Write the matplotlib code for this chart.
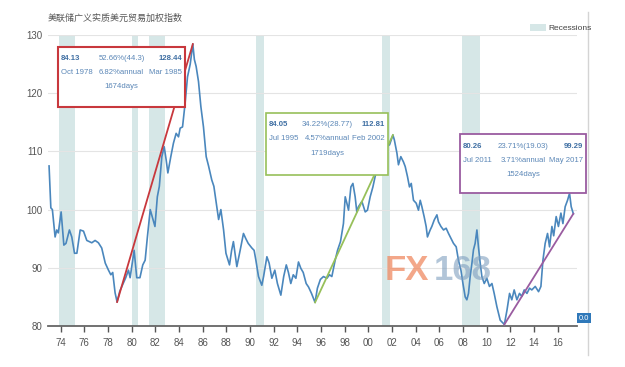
import matplotlib
matplotlib.use("Agg")
from matplotlib import pyplot as plt
from matplotlib.patches import Rectangle
from matplotlib.lines import Line2D

years = [1973.02, 1973.17, 1973.3, 1973.53, 1973.67, 1973.8, 1974.04, 1974.27, 1974.45, 1974.74,
         1974.94, 1975.17, 1975.37, 1975.65, 1975.93, 1976.21, 1976.63, 1976.91, 1977.19, 1977.47,
         1977.77, 1978.04, 1978.24, 1978.4, 1978.6, 1978.77, 1979.0, 1979.3, 1979.5, 1979.73,
         1979.87, 1980.21, 1980.43, 1980.7, 1980.94, 1981.14, 1981.33, 1981.57, 1981.8, 1981.97,
         1982.17, 1982.34, 1982.55, 1982.75, 1982.92, 1983.06, 1983.3, 1983.53, 1983.76, 1983.96,
         1984.1, 1984.3, 1984.52, 1984.72, 1984.95, 1985.17, 1985.3, 1985.45, 1985.65, 1985.85,
         1986.07, 1986.3, 1986.5, 1986.77, 1986.95, 1987.2, 1987.35, 1987.54, 1987.77, 1987.97,
         1988.27, 1988.45, 1988.6, 1988.89, 1989.17, 1989.45, 1989.65, 1989.85, 1990.16, 1990.35,
         1990.5, 1990.72, 1991.0, 1991.15, 1991.43, 1991.62, 1991.85, 1992.1, 1992.32, 1992.61,
         1992.85, 1993.07, 1993.25, 1993.45, 1993.66, 1993.88, 1994.1, 1994.3, 1994.5, 1994.75,
         1994.95, 1995.2, 1995.5, 1995.7, 1995.95, 1996.21, 1996.5, 1996.72, 1996.92, 1997.2,
         1997.4, 1997.65, 1997.9, 1998.05, 1998.19, 1998.33, 1998.53, 1998.7, 1998.89, 1999.03,
         1999.17, 1999.46, 1999.74, 1999.93, 2000.16, 2000.39, 2000.58, 2000.73, 2001.0, 2001.28,
         2001.57, 2001.79, 2002.08, 2002.2, 2002.42, 2002.55, 2002.75, 2002.97, 2003.12, 2003.31,
         2003.48, 2003.63, 2003.82, 2004.05, 2004.24, 2004.39, 2004.53, 2004.72, 2004.89, 2005.0,
         2005.23, 2005.37, 2005.57, 2005.8, 2005.93, 2006.14, 2006.36, 2006.58, 2006.78, 2006.98,
         2007.2, 2007.43, 2007.62, 2007.83, 2008.0, 2008.19, 2008.33, 2008.47, 2008.61, 2008.76,
         2008.89, 2009.03, 2009.18, 2009.31, 2009.46, 2009.6, 2009.8, 2010.02, 2010.24, 2010.45,
         2010.64, 2010.87, 2011.0, 2011.15, 2011.5, 2011.72, 2011.94, 2012.13, 2012.33, 2012.56,
         2012.78, 2012.97, 2013.18, 2013.41, 2013.63, 2013.82, 2014.11, 2014.39, 2014.59, 2014.76,
         2014.95, 2015.15, 2015.32, 2015.52, 2015.67, 2015.88, 2016.07, 2016.28, 2016.45, 2016.64,
         2016.84, 2017.01, 2017.15, 2017.33]
index_values = [107.5, 100.3, 100.0, 95.3, 96.5, 96.0, 99.6, 93.9, 94.2, 96.5,
                95.3, 92.5, 92.5, 96.5, 96.3, 94.7, 94.3, 94.7, 94.3, 93.4,
                90.8, 89.6, 88.8, 89.2, 85.7, 84.13, 86.0, 87.4, 88.3, 89.6,
                88.3, 93.0, 88.3, 88.3, 90.5, 91.3, 95.3, 100.0, 98.3, 97.1,
                102.2, 104.0, 109.1, 110.8, 108.5, 106.3, 109.0, 111.4, 113.1, 112.5,
                114.0, 114.2, 118.3, 122.8, 125.0, 128.44, 125.8, 124.6, 122.0, 117.7,
                114.2, 109.1, 107.5, 105.1, 104.0, 100.5, 98.3, 100.0, 96.5, 92.5,
                90.5, 93.0, 94.5, 90.2, 93.0, 95.9, 95.0, 94.2, 93.4, 93.0,
                91.3, 88.5, 87.0, 88.5, 91.9, 90.8, 88.2, 89.6, 87.3, 85.3,
                88.5, 90.5, 89.2, 87.3, 88.8, 88.2, 91.0, 89.9, 89.2, 87.3,
                86.7, 85.6, 84.05, 86.5, 88.0, 88.5, 88.2, 88.8, 88.5, 91.3,
                93.0, 94.5, 97.6, 102.2, 101.1, 99.9, 103.9, 104.5, 102.2, 99.6,
                100.5, 101.4, 99.6, 99.9, 102.2, 103.9, 105.7, 106.8, 109.1, 110.8,
                111.4, 111.1, 112.81, 112.0, 109.7, 107.7, 109.1, 108.2, 107.4, 105.7,
                103.9, 104.5, 101.6, 101.1, 99.9, 101.6, 100.5, 98.8, 97.1, 95.3,
                96.5, 97.1, 98.2, 99.1, 97.9, 97.1, 96.5, 96.8, 95.9, 95.1,
                94.2, 93.6, 91.3, 89.6, 87.3, 85.0, 84.5, 85.6, 88.5, 90.8,
                93.1, 94.2, 96.5, 93.6, 90.8, 88.5, 87.3, 88.2, 86.8, 87.3,
                85.6, 83.3, 82.2, 81.0, 80.26, 82.7, 85.6, 84.5, 86.2, 84.5,
                85.6, 85.1, 86.2, 85.6, 86.5, 86.2, 86.8, 85.9, 86.8, 91.3,
                94.2, 95.9, 93.6, 97.1, 95.5, 98.8, 97.1, 99.4, 97.6, 100.5,
                101.6, 102.8, 100.5, 99.29]

recession_starts = [1973.83, 1980.0, 1981.5, 1990.5, 2001.17, 2007.92]
recession_ends = [1975.17, 1980.5, 1982.83, 1991.17, 2001.83, 2009.42]

trend_start_years = [1978.77, 1995.5, 2011.5]
trend_start_values = [84.13, 84.05, 80.26]
trend_end_years = [1985.17, 2002.08, 2017.33]
trend_end_values = [128.44, 112.81, 99.29]
start_labels = ["Oct 1978", "Jul 1995", "Jul 2011"]
end_labels = ["Mar 1985", "Feb 2002", "May 2017"]
change_labels = ["52.66%(44.3)", "34.22%(28.77)", "23.71%(19.03)"]
annual_labels = ["6.82%annual", "4.57%annual", "3.71%annual"]
day_labels = ["1674days", "1719days", "1524days"]

tick_years = list(range(1974, 2017, 2))
tick_labels = ["%02d" % (y % 100) for y in tick_years]

W, H = 625, 367
fig = plt.figure(figsize=(W / 100, H / 100), dpi=100)
plt.rcParams['font.family'] = ['Liberation Sans', 'DejaVu Sans']


def fx(px):
	return px / W


def fy(py):
	return 1 - py / H


ax = fig.add_axes([fx(48), fy(326), fx(577) - fx(48), fy(35) - fy(326)])
ax.set_xlim(1972.93, 2017.64)
ax.set_ylim(80, 130)

for s, e in zip(recession_starts, recession_ends):
	ax.axvspan(s, e, color="#d6e7e7", lw=0, zorder=0)

ax.plot(years, index_values, color="#4a87bd", lw=1.2, zorder=3)

trend_colors = ["#c8383d", "#97c05a", "#9a5ca0"]
for i in range(3):
	ax.plot([trend_start_years[i], trend_end_years[i]],
			[trend_start_values[i], trend_end_values[i]],
			color=trend_colors[i], lw=1.3, zorder=4)

ax.set_yticks([80, 90, 100, 110, 120, 130])
ax.set_xticks(tick_years)
ax.set_xticklabels(tick_labels)
ax.yaxis.grid(True, color="#e4e4e4", lw=0.8)
ax.set_axisbelow(True)
for side in ["top", "right", "left"]:
	ax.spines[side].set_visible(False)
ax.spines["bottom"].set_color("#666666")
ax.spines["bottom"].set_linewidth(1.3)
ax.tick_params(axis="y", length=0, labelsize=7, labelcolor="#555555", pad=4)
ax.tick_params(axis="x", length=4, width=1, color="#555555", labelsize=7,
			   labelcolor="#555555", pad=5)

# title
fig.text(fx(48), fy(18), "美联储广义实质美元贸易加权指数", fontsize=6.5, color="#555555",
		 va="center", ha="left", family=["Noto Sans CJK SC", "DejaVu Sans"])

# legend
fig.add_artist(Rectangle((fx(530), fy(31)), fx(16), fy(24) - fy(31),
						 transform=fig.transFigure, facecolor="#d6e7e7", lw=0))
fig.text(fx(548), fy(28), "Recessions", fontsize=6, color="#444444", va="center")

# right frame line
fig.add_artist(Line2D([fx(588), fx(588)], [fy(12), fy(355)], transform=fig.transFigure,
					  color="#d4d4d4", lw=1))

# "0.0" marker at the end of the axis
fig.text(fx(584), fy(318), "0.0", fontsize=5.5, color="white", ha="center", va="center",
		 bbox=dict(boxstyle="square,pad=0.25", facecolor="#2f78b9", edgecolor="none"))

# annotation boxes (left, top, right, bottom in pixels)
boxes = [(58, 47, 185, 107), (266, 113, 388, 175), (460, 134, 586, 193)]
box_lw = [1.5, 1.2, 1.3]
text_col = "#5b87b7"
fs = 5.6
for i, (l, t, r, b) in enumerate(boxes):
	fig.add_artist(Rectangle((fx(l), fy(b)), fx(r) - fx(l), fy(t) - fy(b),
							 transform=fig.transFigure, facecolor="white",
							 edgecolor=trend_colors[i], lw=box_lw[i], zorder=5))
	r1, r2, r3 = t + 12, t + 26, t + 40
	cx = (l + r) / 2
	fig.text(fx(l + 3), fy(r1), "%.2f" % trend_start_values[i], fontsize=fs,
			 fontweight="bold", color="#3f6fa3", va="center", zorder=6)
	fig.text(fx(l + 3), fy(r2), start_labels[i], fontsize=fs, color=text_col,
			 va="center", zorder=6)
	fig.text(fx(cx), fy(r1), change_labels[i], fontsize=fs, color=text_col,
			 va="center", ha="center", zorder=6)
	fig.text(fx(cx), fy(r2), annual_labels[i], fontsize=fs, color=text_col,
			 va="center", ha="center", zorder=6)
	fig.text(fx(cx), fy(r3), day_labels[i], fontsize=fs, color=text_col,
			 va="center", ha="center", zorder=6)
	fig.text(fx(r - 3), fy(r1), "%.2f" % trend_end_values[i], fontsize=fs,
			 fontweight="bold", color="#3f6fa3", va="center", ha="right", zorder=6)
	fig.text(fx(r - 3), fy(r2), end_labels[i], fontsize=fs, color=text_col,
			 va="center", ha="right", zorder=6)

# watermark
fig.text(fx(385), fy(270), "FX", fontsize=25, fontweight="bold", color="#f08a62",
		 alpha=0.75, va="center")
fig.text(fx(434), fy(270), "168", fontsize=25, fontweight="bold", color="#7f9fbf",
		 alpha=0.6, va="center")

fig.savefig("out.png", dpi=100)
